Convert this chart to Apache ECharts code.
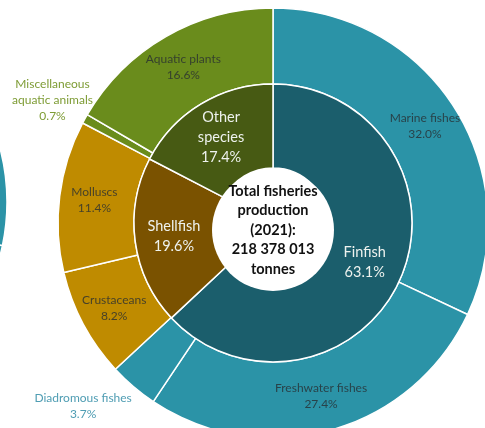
<!DOCTYPE html>
<html>
<head>
<meta charset="utf-8">
<script src="https://cdn.jsdelivr.net/npm/echarts@6/dist/echarts.min.js"></script>
<style>
  html, body { margin: 0; padding: 0; background: #fff; }
  #chart { width: 485px; height: 428px; }
</style>
</head>
<body>
<div id="chart"></div>
<script>
// inner ring: main groups (share of total, %)
const groupNames = ['Finfish', 'Shellfish', 'Other\nspecies'];
const groupValues = [63.1, 19.6, 17.4];

// outer ring: sub groups, same order as the groups above
const subNames = ['Marine fishes', 'Freshwater fishes', 'Diadromous fishes', 'Crustaceans', 'Molluscs', 'Miscellaneous\naquatic animals', 'Aquatic plants'];
const subValues = [32.0, 27.4, 3.7, 8.2, 11.4, 0.7, 16.6];
const subGroup = [0, 0, 0, 1, 1, 2, 2];

const totalYear = 2021;
const totalTonnes = 218378013;

// slice of the neighbouring chart that shows at the left edge
const neighbourValues = [102, 258];

const innerColors = ['#1b5e6c', '#7a5200', '#475a13'];
const outerColors = ['#2b93a7', '#bf8b00', '#6a8c1c'];

const FONT = 'Lato, "Open Sans", sans-serif';
const CX = 273, CY = 223;

const myChart = echarts.init(document.getElementById('chart'));

const pct = v => v.toFixed(1) + '%';

const innerData = groupNames.map((n, i) => ({
	name: n,
	value: groupValues[i],
	itemStyle: { color: innerColors[i] }
}));

const outerData = subNames.map((n, i) => {
	const item = {
		name: n,
		value: subValues[i],
		itemStyle: { color: outerColors[subGroup[i]] }
	};
	// the two thin slices have their labels outside the ring
	if (n.indexOf('Miscellaneous') === 0) {
		item.label = { color: '#7e9c35', offset: [-63, -36] };
	}
	if (n === 'Diadromous fishes') {
		item.label = { color: '#4f9db3', offset: [-73, 46] };
	}
	return item;
});

const fmtTonnes = v => String(v).replace(/\B(?=(\d{3})+(?!\d))/g, ' ');

myChart.setOption({
	animation: false,
	series: [
		{
			type: 'pie',
			center: [-203, 202],
			radius: [0, 210],
			startAngle: 90,
			silent: true,
			label: { show: false },
			labelLine: { show: false },
			itemStyle: { color: '#2b93a7', borderColor: '#fff', borderWidth: 1.5 },
			data: neighbourValues.map(v => ({ value: v }))
		},
		{
			type: 'pie',
			center: [CX, CY],
			radius: [139, 215],
			startAngle: 90,
			clockwise: true,
			silent: true,
			avoidLabelOverlap: false,
			itemStyle: { borderColor: '#fff', borderWidth: 1.5 },
			label: {
				position: 'inside',
				fontFamily: FONT,
				fontSize: 12,
				lineHeight: 16,
				color: 'rgba(40,46,50,0.8)',
				formatter: p => p.name + '\n' + pct(p.value)
			},
			labelLine: { show: false },
			data: outerData
		},
		{
			type: 'pie',
			center: [CX, CY],
			radius: [55, 139],
			startAngle: 90,
			clockwise: true,
			silent: true,
			avoidLabelOverlap: false,
			itemStyle: { borderColor: '#fff', borderWidth: 1.5 },
			label: {
				position: 'inside',
				fontFamily: FONT,
				fontSize: 14.5,
				lineHeight: 20,
				color: '#eef2ee',
				formatter: p => p.name + '\n' + pct(p.value)
			},
			labelLine: { show: false },
			data: innerData
		},
		{
			type: 'pie',
			center: [CX, CY + 7],
			radius: [0, 61],
			silent: true,
			itemStyle: { color: '#fff' },
			label: {
				position: 'center',
				fontFamily: FONT,
				fontSize: 14.5,
				fontWeight: 'bold',
				lineHeight: 19.5,
				color: '#111',
				formatter: p => 'Total fisheries\nproduction\n(' + totalYear + '):\n' + fmtTonnes(p.value) + '\ntonnes'
			},
			labelLine: { show: false },
			data: [{ value: totalTonnes }]
		}
	]
});
</script>
</body>
</html>
